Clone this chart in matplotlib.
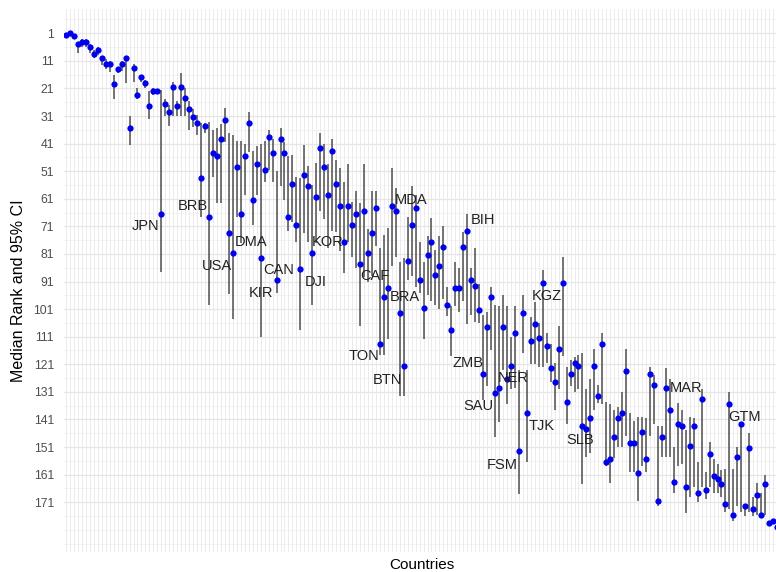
import numpy as np
import matplotlib
matplotlib.use("Agg")
import matplotlib.pyplot as plt
from matplotlib.ticker import FixedLocator, NullFormatter

# median rank and 95% CI per country (countries ordered left to right)
median_rank = [
    1.5, 1, 2, 5, 4, 4, 6, 8.5, 7, 10,
    12, 12, 19.5, 14, 12, 10, 35.5, 13.5, 23.5, 17,
    19, 27.5, 22, 22, 66.5, 26.5, 29.5, 20.5, 27.5, 20.5,
    24.5, 28.5, 31.5, 33.5, 53.5, 34.5, 67.5, 44.5, 45.5, 39.5,
    32.5, 73.5, 80.5, 49.5, 66.5, 45.5, 33.5, 61.5, 48.5, 82.5,
    50.5, 38.5, 44.5, 90.5, 39.5, 44.5, 67.5, 55.5, 70.5, 86.5,
    52.5, 56.5, 80.5, 60.5, 42.5, 49.5, 59.5, 43.5, 55.5, 63.5,
    76.5, 63.5, 70.5, 66.5, 84.5, 65.5, 80.5, 73.5, 64.5, 113.5,
    96.5, 93.5, 63.5, 65.5, 102.5, 121.5, 83.5, 70.5, 64.5, 90.5,
    100.5, 81.5, 76.5, 88.5, 85.5, 78.5, 99.5, 108.5, 93.5, 93.5,
    78.5, 72.5, 90.5, 92.5, 101.5, 124.5, 107.5, 96.5, 131.5, 129.5,
    107.5, 126.5, 121.5, 109.5, 152.5, 102.5, 138.5, 112.5, 106.5, 111.5,
    91.5, 114.5, 122.5, 127.5, 115.5, 91.5, 134.5, 124.5, 120.5, 121.5,
    143.5, 144.5, 140.5, 121.5, 132.5, 113.5, 156.5, 155.5, 147.5, 140.5,
    138.5, 123.5, 149.5, 149.5, 160.5, 145.5, 155.5, 124.5, 128.5, 170.5,
    147.5, 129.5, 137.5, 163.5, 142.5, 143.5, 165.5, 150.5, 143.5, 167.5,
    133.5, 166.5, 153.5, 161.5, 162.5, 164.5, 171.5, 135.5, 175.5, 154.5,
    142.5, 172.5, 151.5, 173.5, 168.5, 175.5, 164.5, 178.5, 178, 180,
]
ci_low = [
    1, 1, 2, 4, 3, 3, 5, 7, 6, 9.5,
    10.5, 11, 16, 13.5, 11, 9.5, 31, 12, 21, 16,
    18, 22, 21, 21.5, 21.5, 25, 27, 18.5, 25.5, 15.5,
    21, 25.5, 28.5, 30.5, 33.5, 33.5, 33, 36, 35.5, 34,
    28, 37, 38, 40, 40, 41, 29.5, 43.5, 42, 41,
    40, 36, 39.5, 51, 35.5, 40.5, 45.5, 45, 53, 53.5,
    41.5, 49, 56, 48, 37, 41, 48.5, 39.5, 47, 50,
    55, 48.5, 62, 58, 62.5, 48.5, 72, 58, 58, 79,
    74, 71.5, 50, 57, 84, 82.5, 67.5, 56.5, 59.5, 76.5,
    84, 74.5, 68, 79.5, 74.5, 71, 93, 100, 84, 86,
    73, 66.5, 86, 79, 92, 103, 102, 93, 99.5, 100,
    96, 100, 111, 100, 123, 96, 123, 104, 98.5, 106,
    87, 109.5, 113.5, 120.5, 107, 82, 122, 119.5, 118.5, 117.5,
    117, 130, 126.5, 115.5, 128.5, 109.5, 134.5, 135.5, 137.5, 136.5,
    131, 115.5, 138.5, 141.5, 140, 140, 140.5, 122, 125, 143.5,
    143.5, 122.5, 126.5, 151, 135, 137.5, 145, 140, 140.5, 156.5,
    130, 160, 149, 155.5, 157, 159.5, 159, 131, 159, 151,
    142.5, 172, 146, 169, 164, 167.5, 161, 178, 177.5, 179.5,
]
ci_high = [
    2, 1.5, 3, 8, 6, 6, 8, 10, 9, 12.5,
    14, 15, 25, 15.5, 14.5, 19, 41.5, 18.5, 25, 18.5,
    21, 32, 23.5, 23, 87.5, 31, 34.5, 31, 31, 31,
    31, 36, 35, 38, 67.5, 37, 99.5, 53, 62.5, 62.5,
    40.5, 95.5, 104.5, 67.5, 77, 59.5, 44, 70.5, 59.5, 111,
    55, 50.5, 55, 95, 56.5, 61.5, 72.5, 69.5, 76.5, 108.5,
    73.5, 76.5, 99.5, 77, 65.5, 68.5, 79, 72.5, 73, 80,
    88, 76.5, 82, 86, 107, 89.5, 91, 89, 78, 117.5,
    117.5, 112, 85.5, 82, 132.5, 132.5, 90.5, 89, 93, 95,
    112, 96, 98, 99.5, 101, 97.5, 103.5, 118, 100, 102,
    98, 106.5, 103, 105.5, 106, 134, 129, 116, 147.5, 142,
    123, 135.5, 130, 129.5, 168, 117, 156.5, 121, 121, 122,
    122, 120.5, 127.5, 137.5, 130, 118, 142.5, 129, 131, 130,
    164.5, 154.5, 153, 137.5, 135, 135.5, 158, 164, 155, 151,
    151, 147, 160, 160, 170.5, 158, 160, 147, 142.5, 172.5,
    154.5, 154.5, 154.5, 167.5, 158, 157, 175, 169, 165.5, 171,
    165.5, 170, 165.5, 167.5, 167.5, 169, 174.5, 173.5, 178, 172.5,
    174.5, 176, 174.5, 176, 175.5, 176.5, 175.5, 179, 179, 180,
]

# labelled countries: code, label position (x in country index, y in rank)
label_codes = ["JPN", "BRB", "USA", "DMA", "KIR", "CAN", "DJI", "KOR", "CAF",
               "MDA", "BRA", "TON", "BTN", "BIH", "ZMB", "NER", "SAU", "FSM",
               "TJK", "KGZ", "SLB", "MAR", "GTM"]
label_x = [21.1, 32.9, 39.0, 47.7, 50.2, 54.6, 63.9, 66.9, 78.7,
           87.8, 86.3, 76.0, 82.0, 105.9, 102.1, 113.5, 104.9, 110.9,
           120.7, 122.0, 130.3, 157.0, 171.8]
label_y = [70.8, 63.6, 85.3, 76.6, 95.1, 86.8, 91.1, 76.6, 88.9,
           61.4, 96.5, 117.9, 126.6, 68.6, 120.4, 125.9, 136.3, 157.4,
           143.3, 96.2, 148.4, 129.5, 140.0]

n = len(median_rank)
countries = np.arange(1, n + 1)

plt.rcParams['font.family'] = ['Liberation Sans', 'DejaVu Sans']

W, H = 776, 572
fig = plt.figure(figsize=(W / 100, H / 100), dpi=100)
# panel runs a little past the right edge, as in the reference
left, right, top, bottom = 63.6, 779.5, 8.6, 551.7
ax = fig.add_axes([left / W, 1 - bottom / H, (right - left) / W, (bottom - top) / H])

ax.vlines(countries, ci_low, ci_high, color='#333333', linewidth=1.1, alpha=0.85, zorder=2)
ax.plot(countries, median_rank, 'o', color='#0000ee', markersize=4.5,
        markeredgewidth=0, zorder=3)

for code, lx, ly in zip(label_codes, label_x, label_y):
    ax.text(lx, ly, code, ha='center', va='center', fontsize=10.5,
            color='#222222', zorder=4)

ax.set_xlim(0.4, n + 0.6)
ax.set_ylim(188.95, -7.95)

ax.set_yticks(np.arange(1, 172, 10))
minor_y = [v for v in np.arange(-4, 190, 5) if (v - 1) % 10 != 0 or v > 171]
ax.yaxis.set_minor_locator(FixedLocator(minor_y))
ax.yaxis.set_minor_formatter(NullFormatter())
ax.set_xticks(countries)
ax.set_xticklabels([])

ax.tick_params(axis='both', which='both', length=0)
ax.tick_params(axis='y', labelsize=8.8, labelcolor='#4d4d4d', pad=7)
ax.grid(axis='x', which='major', color='#ebebeb', linewidth=0.7)
ax.grid(axis='y', which='major', color='#e6e6e6', linewidth=0.9)
ax.grid(axis='y', which='minor', color='#efefef', linewidth=0.5)
ax.set_axisbelow(True)
for s in ax.spines.values():
    s.set_visible(False)

ax.set_xlabel('Countries', fontsize=11)
ax.xaxis.set_label_coords(0.5, -0.012)
ax.set_ylabel('Median Rank and 95% CI', fontsize=11.5)
ax.yaxis.set_label_coords(-0.053, 0.48)

fig.savefig('out.png', dpi=100)
